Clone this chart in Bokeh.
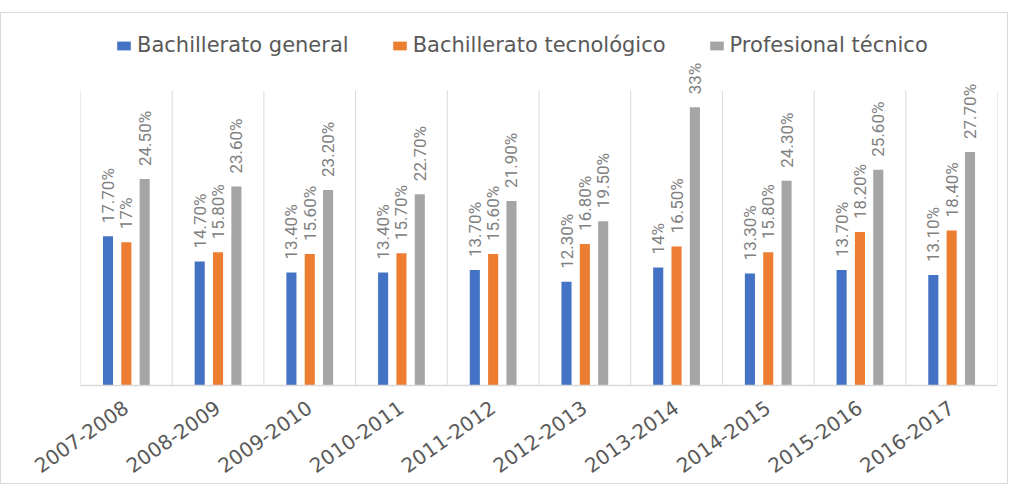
from bokeh.plotting import figure
from bokeh.models import ColumnDataSource, FactorRange, Range1d, Legend, LegendItem
from bokeh.transform import dodge
from bokeh.core.properties import value
from bokeh.embed import file_html
from bokeh.resources import INLINE
import math

categories = ["2007-2008", "2008-2009", "2009-2010", "2010-2011", "2011-2012",
              "2012-2013", "2013-2014", "2014-2015", "2015-2016", "2016-2017"]
series_names = ["Bachillerato general", "Bachillerato tecnológico", "Profesional técnico"]
general = [17.7, 14.7, 13.4, 13.4, 13.7, 12.3, 14.0, 13.3, 13.7, 13.1]
tecnologico = [17.0, 15.8, 15.6, 15.7, 15.6, 16.8, 16.5, 15.8, 18.2, 18.4]
profesional = [24.5, 23.6, 23.2, 22.7, 21.9, 19.5, 33.0, 24.3, 25.6, 27.7]
general_labels = ["17.70%", "14.70%", "13.40%", "13.40%", "13.70%", "12.30%", "14%", "13.30%", "13.70%", "13.10%"]
tecnologico_labels = ["17%", "15.80%", "15.60%", "15.70%", "15.60%", "16.80%", "16.50%", "15.80%", "18.20%", "18.40%"]
profesional_labels = ["24.50%", "23.60%", "23.20%", "22.70%", "21.90%", "19.50%", "33%", "24.30%", "25.60%", "27.70%"]

Y_TOP = 35.0
PX_PER_UNIT = 295.0 / 35.0

W, H = 1008, 472
FRAME_TOP = 2
FRAME_BOTTOM = 100
y_max = (H - FRAME_TOP - FRAME_BOTTOM) / PX_PER_UNIT

colors = ["#4472C4", "#ED7D31", "#A5A5A5"]
offsets = [-0.2, 0.0, 0.2]
BAR_W = 0.11

p = figure(width=W, height=H, output_backend="svg", toolbar_location=None,
           x_range=FactorRange(factors=categories, range_padding=0),
           y_range=Range1d(0, y_max), y_axis_location=None,
           min_border_left=79, min_border_right=W - 79 - 917,
           min_border_top=FRAME_TOP, min_border_bottom=FRAME_BOTTOM,
           background_fill_color="white", border_fill_color="white")
p.margin = (12, 0, 0, 0)
p.styles = {"border": "1px solid #d9d9d9"}
p.outline_line_color = None
p.xgrid.visible = False
p.ygrid.visible = False

# category separators
bounds = list(range(len(categories) + 1))
p.segment(x0=bounds, y0=[0] * len(bounds), x1=bounds, y1=[Y_TOP] * len(bounds),
          line_color="#d9d9d9", line_width=1)

src = ColumnDataSource(dict(cat=categories, g=general, t=tecnologico, pr=profesional,
                            gl=general_labels, tl=tecnologico_labels, pl=profesional_labels))

renderers = []
for key, lab, col, off in zip(["g", "t", "pr"], ["gl", "tl", "pl"], colors, offsets):
    r = p.vbar(x=dodge("cat", off, range=p.x_range), top=key, width=BAR_W, source=src,
               fill_color=col, line_color=None)
    renderers.append(r)
    p.text(x=dodge("cat", off, range=p.x_range), y=key, text=lab, source=src,
           angle=math.pi / 2, text_align="left", text_baseline="middle",
           y_offset=-13, text_color="#808080", text_font=value("Roboto"),
           text_font_size="17px")

legend = Legend(items=[LegendItem(label=n, renderers=[r]) for n, r in zip(series_names, renderers)],
                orientation="horizontal", location=(35, 328),
                glyph_width=17, glyph_height=11, label_standoff=5, spacing=42,
                padding=0, margin=0, border_line_color=None, background_fill_alpha=0,
                label_text_font="DejaVu Sans", label_text_font_size="21px",
                label_text_color="#595959")
p.add_layout(legend)

ax = p.xaxis[0]
ax.axis_line_color = "#d9d9d9"
ax.axis_line_width = 1.5
ax.major_tick_line_color = None
ax.minor_tick_line_color = None
ax.major_label_orientation = 0.61
ax.major_label_standoff = 14
ax.major_label_text_font = "DejaVu Sans"
ax.major_label_text_font_size = "20px"
ax.major_label_text_color = "#595959"

open("out.html", "w").write(file_html(p, INLINE))
